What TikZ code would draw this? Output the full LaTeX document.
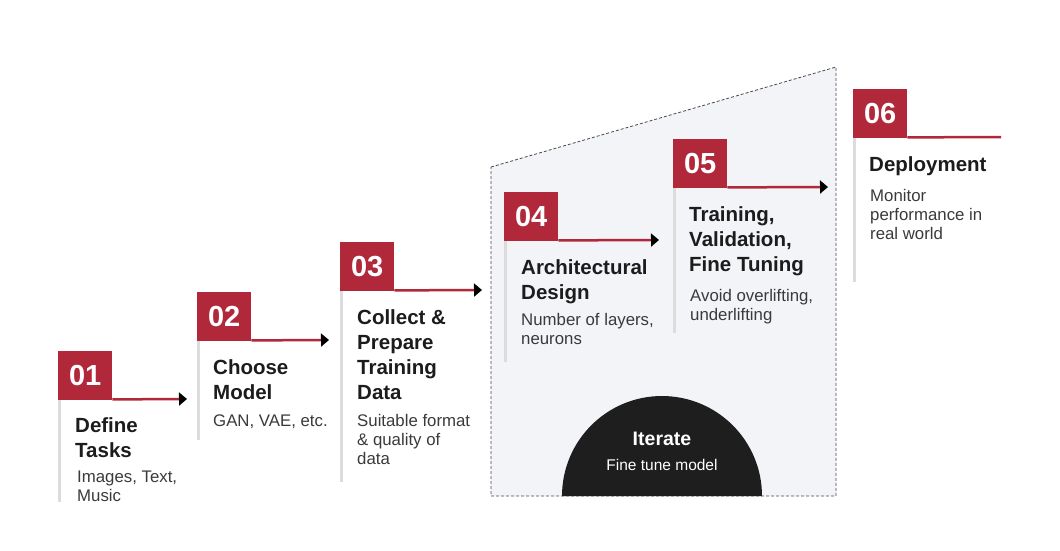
\documentclass[tikz,border=0pt]{standalone}
\usepackage{fontspec}
\setmainfont{Liberation Sans}
\usetikzlibrary{arrows.meta}
\definecolor{stepred}{HTML}{B0283A}
\definecolor{guide}{HTML}{DCDCDC}
\definecolor{panel}{HTML}{F3F4F8}
\definecolor{ink}{HTML}{1C1C1C}
\definecolor{desc}{HTML}{3A3A3A}
\definecolor{disk}{HTML}{1E1E1E}
\tikzset{
  numbox/.style={fill=stepred, text=white, minimum width=54pt, minimum height=49pt, inner sep=0pt, anchor=north west, font=\fontsize{29}{29}\selectfont\bfseries},
  flow/.style={draw=stepred, line width=2.5pt, -{Triangle[length=8pt,width=13pt,black]}},
  flowend/.style={draw=stepred, line width=2.5pt},
  guideline/.style={draw=guide, line width=2.5pt},
  ttl/.style={anchor=base west, inner sep=0pt, text=ink, align=left, font=\fontsize{20.5}{25}\selectfont\bfseries},
  dsc/.style={anchor=base west, inner sep=0pt, text=desc, align=left, font=\fontsize{16.8}{19}\selectfont},
}
\begin{document}
\begin{tikzpicture}[x=1pt,y=-1pt]
\useasboundingbox (0,0) rectangle (1060,550);
% panel
\draw[fill=panel, draw=ink!80, dash pattern=on 3pt off 2pt, line width=0.8pt] (491,167) -- (836,67) -- (836,496) -- (491,496) -- cycle;
\fill[disk] (562,496) arc (180:360:100) -- cycle;
\node[text=white, font=\fontsize{19.5}{19.5}\selectfont\bfseries, anchor=base] (it) at (662,445) {Iterate};
\node[text=white, font=\fontsize{15.5}{15.5}\selectfont, anchor=base] (itd) at (662,470) {Fine tune model};

% guide lines
\draw[guideline] (59.5,400) -- (59.5,502);
\draw[guideline] (198.5,341) -- (198.5,440);
\draw[guideline] (341.5,291) -- (341.5,482);
\draw[guideline] (505.5,241) -- (505.5,362);
\draw[guideline] (674.5,188) -- (674.5,333);
\draw[guideline] (854.5,138) -- (854.5,282);

% number boxes
\node[numbox] (n1) at (58,351) {01};
\node[numbox] (n2) at (197,292) {02};
\node[numbox] (n3) at (340,242) {03};
\node[numbox] (n4) at (504,192) {04};
\node[numbox] (n5) at (673,139) {05};
\node[numbox] (n6) at (853,89) {06};

\coordinate (e1) at (187,399);
\coordinate (e2) at (329,340);
\coordinate (e3) at (482,290);
\coordinate (e4) at (659,240);
\coordinate (e5) at (828,187);
\coordinate (e6) at (1001,137);
\draw[flow] ([yshift=1pt]n1.south east) -- (e1);
\draw[flow] ([yshift=1pt]n2.south east) -- (e2);
\draw[flow] ([yshift=1pt]n3.south east) -- (e3);
\draw[flow] ([yshift=1pt]n4.south east) -- (e4);
\draw[flow] ([yshift=1pt]n5.south east) -- (e5);
\draw[flowend] ([yshift=1pt]n6.south east) -- (e6);

% titles (anchor = baseline of last line)
\node[ttl] (t1) at (75,457) {Define\\Tasks};
\node[ttl] (t2) at (213,399) {Choose\\Model};
\node[ttl] (t3) at (357,399) {Collect \&\\Prepare\\Training\\Data};
\node[ttl] (t4) at (521,299) {Architectural\\Design};
\node[ttl] (t5) at (689,271) {Training,\\Validation,\\Fine Tuning};
\node[ttl] (t6) at (869,171) {Deployment};

% descriptions
\node[dsc] (d1) at (77,501) {Images, Text,\\Music};
\node[dsc] (d2) at (213,426) {GAN, VAE, etc.};
\node[dsc] (d3) at (357,464) {Suitable format\\\& quality of\\data};
\node[dsc] (d4) at (521,344) {Number of layers,\\neurons};
\node[dsc] (d5) at (690,320) {Avoid overlifting,\\underlifting};
\node[dsc] (d6) at (870,239) {Monitor\\performance in\\real world};
\end{tikzpicture}
\end{document}
